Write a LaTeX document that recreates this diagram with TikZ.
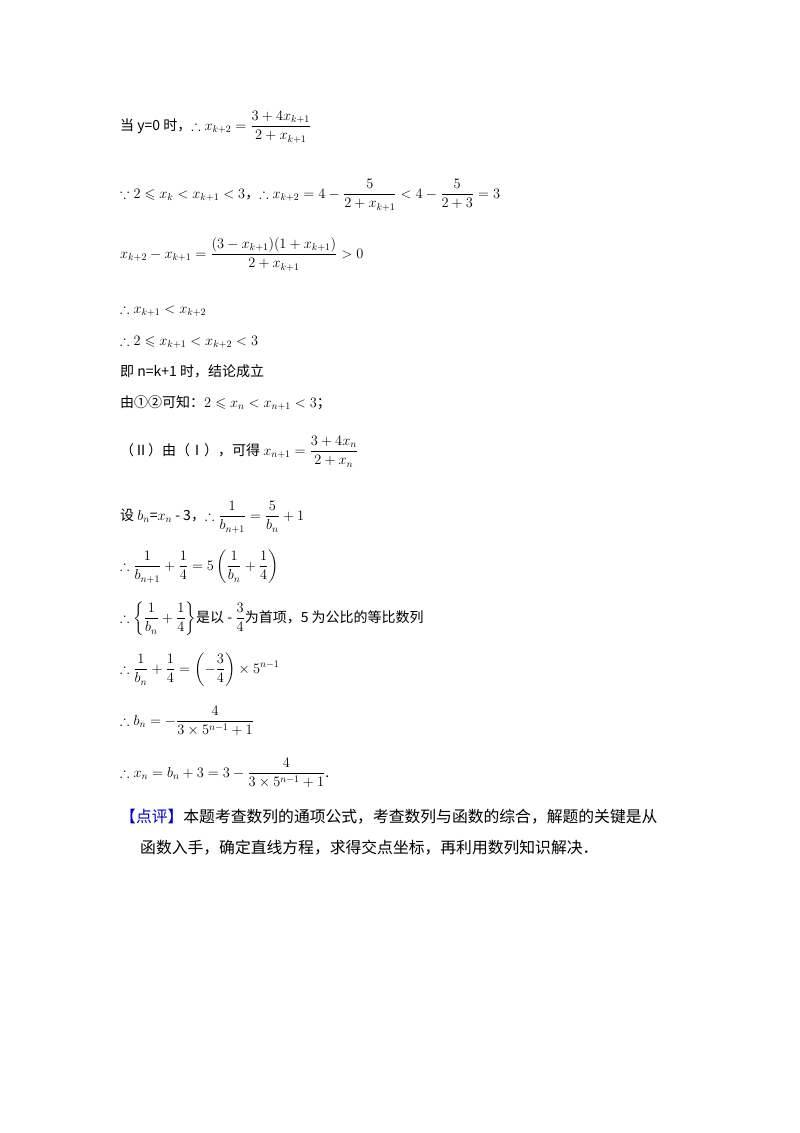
\documentclass[tikz,border=0pt]{standalone}
\usepackage{amsmath,amssymb}
\usepackage{fontspec}
\setmainfont{Noto Sans CJK SC}
\begin{document}
\begin{tikzpicture}[x=1pt,y=-1pt,every node/.style={anchor=base west,inner sep=0pt,font=\fontsize{14}{16}\selectfont},
  remark/.style={font=\fontsize{15.8}{18}\selectfont}]
\useasboundingbox (0,0) rectangle (800,1133);
\node (l1) at (120,130) {当 y=0 时，$\therefore x_{k+2}=\dfrac{3+4x_{k+1}}{2+x_{k+1}}$};
\node (l2) at (120,198) {$\because 2\leqslant x_k<x_{k+1}<3$，$\therefore x_{k+2}=4-\dfrac{5}{2+x_{k+1}}<4-\dfrac{5}{2+3}=3$};
\node (l3) at (120,258) {$x_{k+2}-x_{k+1}=\dfrac{(3-x_{k+1})(1+x_{k+1})}{2+x_{k+1}}>0$};
\node (l4) at (120,313) {$\therefore x_{k+1}<x_{k+2}$};
\node (l5) at (120,345) {$\therefore 2\leqslant x_{k+1}<x_{k+2}<3$};
\node (l6) at (120,376) {即 n=k+1 时，结论成立};
\node (l7) at (120,407) {由①②可知：$2\leqslant x_n<x_{n+1}<3$；};
\node (l8) at (120,455) {（Ⅱ）由（Ⅰ），可得 $x_{n+1}=\dfrac{3+4x_n}{2+x_n}$};
\node (l9) at (120,520) {设 $b_n$=$x_n$ - 3，$\therefore \dfrac{1}{b_{n+1}}=\dfrac{5}{b_n}+1$};
\node (l10) at (120,570) {$\therefore \dfrac{1}{b_{n+1}}+\dfrac14=5\left(\dfrac{1}{b_n}+\dfrac14\right)$};
\node (l11) at (120,622) {$\therefore \left\{\dfrac{1}{b_n}+\dfrac14\right\}$是以 - $\dfrac34$为首项，5 为公比的等比数列};
\node (l12) at (120,673) {$\therefore \dfrac{1}{b_n}+\dfrac14=\left(-\dfrac34\right)\times 5^{n-1}$};
\node (l13) at (120,725) {$\therefore b_n=-\dfrac{4}{3\times 5^{n-1}+1}$};
\node (l14) at (120,777) {$\therefore x_n=b_n+3=3-\dfrac{4}{3\times 5^{n-1}+1}$.};
\node[remark] (l15) at (120,822) {\textcolor{blue!80!black}{【点评】}本题考查数列的通项公式，考查数列与函数的综合，解题的关键是从};
\node[remark] (l16) at (140,853) {函数入手，确定直线方程，求得交点坐标，再利用数列知识解决．};
\end{tikzpicture}
\end{document}
